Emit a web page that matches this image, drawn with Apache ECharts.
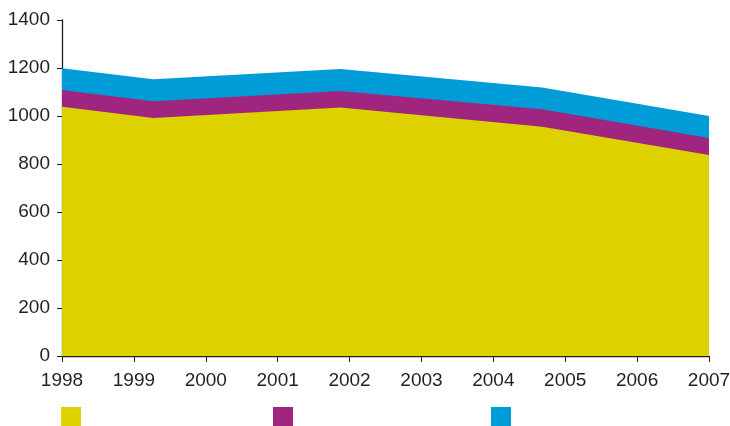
<!DOCTYPE html>
<html>
<head>
<meta charset="utf-8">
<script src="https://cdn.jsdelivr.net/npm/echarts@6/dist/echarts.min.js"></script>
<style>html,body{margin:0;padding:0;background:#fff}#c{width:730px;height:426px}</style>
</head>
<body>
<div id="c"></div>
<script>
var xPoints = [1998, 1999.27, 2001.87, 2004.68, 2007];
var seriesA = [1039, 992, 1035, 955, 837];
var seriesB = [69, 69, 69, 73, 71];
var seriesC = [91, 92, 92, 91, 92];
var yTicks = [0, 200, 400, 600, 800, 1000, 1200, 1400];
var xTicks = [1998, 1999, 2000, 2001, 2002, 2003, 2004, 2005, 2006, 2007];
var names = ['A', 'B', 'C'];
var colors = ['#DDD200', '#A0257F', '#009CD8'];

// cumulative tops (stacking done here, areas drawn from the axis)
var layers = [seriesA, seriesB, seriesC];
var cum = [];
layers.forEach(function (vals, k) {
  cum.push(vals.map(function (v, i) { return v + (k > 0 ? cum[k - 1][i] : 0); }));
});
function pairs(vals) { return vals.map(function (v, i) { return [xPoints[i], v]; }); }
var font = 'Liberation Sans, Arial, sans-serif';
var axisColor = '#231F20';

var chart = echarts.init(document.getElementById('c'), null, {renderer: 'canvas'});
function legendAt(i, left) {
  return {
    data: [names[i]], left: left, top: 407, icon: 'rect', itemWidth: 20, itemHeight: 20,
    formatter: function () { return ''; }, padding: 0, selectedMode: false
  };
}
var series = [];
for (var k = 0; k < 3; k++) {
  series.push({name: names[k], type: 'line', data: pairs(cum[k]), showSymbol: false, symbol: 'none',
    lineStyle: {width: 0}, areaStyle: {color: colors[k], opacity: 1}, z: 3 - k});
}
chart.setOption({
  animation: false,
  color: colors,
  grid: {left: 62, right: 21, top: 20, bottom: 70, outerBoundsMode: 'none', containLabel: false},
  legend: [legendAt(0, 61), legendAt(1, 273), legendAt(2, 491)],
  xAxis: {
    type: 'value', min: xTicks[0], max: xTicks[xTicks.length - 1], interval: 1,
    axisLine: {lineStyle: {color: axisColor, width: 1.3}},
    axisTick: {show: true, length: 6, lineStyle: {color: axisColor}},
    axisLabel: {color: '#231F20', fontSize: 19, fontFamily: font, margin: 15,
      formatter: function (v) { return String(v); }},
    splitLine: {show: false}
  },
  yAxis: {
    type: 'value', min: yTicks[0], max: yTicks[yTicks.length - 1], interval: 200,
    axisLine: {show: true, lineStyle: {color: axisColor, width: 1.3}},
    axisTick: {show: true, length: 5, lineStyle: {color: axisColor}},
    axisLabel: {color: '#231F20', fontSize: 19, fontFamily: font, margin: 12,
      formatter: function (v) { return String(v); }},
    splitLine: {show: false}
  },
  series: series
});
</script>
</body>
</html>
